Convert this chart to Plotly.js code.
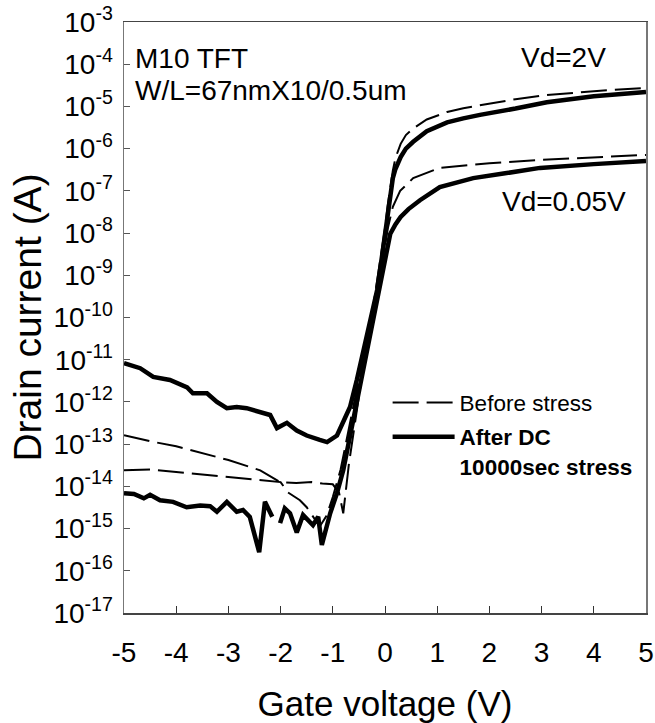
<!DOCTYPE html>
<html>
<head>
<meta charset="utf-8">
<script src="https://cdn.plot.ly/plotly-3.0.1.min.js"></script>
<style>html,body{margin:0;padding:0;background:#fff;}#chart{width:655px;height:723px;}</style>
</head>
<body>
<div id="chart"></div>
<script>
// ---------- data ----------
// Before stress, Vd = 2 V (dashed)
const vgBefore2 = [-5.0,-4.5,-4.0,-3.54,-3.0,-2.39,-2.2,-2.01,-1.7,-1.4,-1.2,-1.0,-0.88,-0.8,-0.69,-0.57,-0.45,-0.3,-0.15,-0.05,0.0,0.05,0.1,0.15,0.2,0.3,0.4,0.54,0.8,1.19,1.5,1.82,2.5,3.1,4.0,5.0];
const idBefore2 = [1.62e-13,1.17e-13,8.9e-14,6.2e-14,4.2e-14,2.4e-14,1.74e-14,1.26e-14,1.2e-14,1.26e-14,1.17e-14,1.12e-14,7.1e-15,2.3e-15,3.5e-14,3.7e-13,3.5e-12,4.5e-11,7.1e-10,5.0e-9,1.3e-8,4.4e-8,1.26e-7,3.0e-7,6.0e-7,1.3e-6,2.1e-6,3.0e-6,4.9e-6,7.4e-6,9.1e-6,1.07e-5,1.48e-5,1.86e-5,2.3e-5,2.75e-5];

// Before stress, Vd = 0.05 V (dashed)
const vgBefore005 = [-5.0,-4.5,-4.0,-3.5,-3.0,-2.5,-2.0,-1.86,-1.63,-1.5,-1.38,-1.25,-1.12,-1.0,-0.85,-0.65,-0.45,-0.3,-0.15,0.0,0.06,0.15,0.29,0.54,1.05,2.0,2.97,4.0,5.0];
const idBefore005 = [2.4e-14,2.5e-14,2.2e-14,1.9e-14,1.66e-14,1.45e-14,1.26e-14,7.2e-15,4.7e-15,3.2e-15,1.9e-15,1.12e-15,2.0e-15,5.6e-15,2.5e-14,4.5e-13,7.1e-12,5.6e-11,5.0e-10,5.0e-9,1.4e-8,4.2e-8,1.0e-7,2.0e-7,3.5e-7,4.5e-7,5.4e-7,6.3e-7,7.1e-7];

// After DC 10000 sec stress, Vd = 2 V (thick)
const vgAfter2 = [-5.0,-4.69,-4.44,-4.12,-3.79,-3.68,-3.41,-3.22,-3.03,-2.84,-2.65,-2.4,-2.2,-2.07,-1.88,-1.69,-1.5,-1.25,-1.11,-0.92,-0.8,-0.67,-0.54,-0.42,-0.29,-0.15,-0.04,0.05,0.1,0.15,0.2,0.3,0.4,0.54,0.8,1.19,1.5,1.82,2.5,3.1,4.0,5.0];
const idAfter2 = [8.3e-12,6.3e-12,3.9e-12,3.3e-12,2.2e-12,1.6e-12,1.6e-12,1.0e-12,7.1e-13,7.6e-13,7.1e-13,5.8e-13,4.9e-13,2.4e-13,3.2e-13,2.1e-13,1.6e-13,1.26e-13,1.12e-13,1.6e-13,3.2e-13,7.6e-13,3.3e-12,1.45e-11,7.4e-11,4.5e-10,4.0e-9,3.0e-8,9.0e-8,2.0e-7,3.3e-7,6.3e-7,1.0e-6,1.45e-6,2.6e-6,4.2e-6,5.2e-6,6.3e-6,8.9e-6,1.26e-5,1.74e-5,2.2e-5];

// After DC 10000 sec stress, Vd = 0.05 V (thick); null = gap in the measured trace
const vgAfter005 = [-5.0,-4.81,-4.62,-4.5,-4.31,-4.06,-3.8,-3.54,-3.35,-3.22,-3.03,-2.84,-2.72,-2.59,-2.41,-2.3,-2.16,-2.08,-2.01,-1.92,-1.82,-1.69,-1.57,-1.38,-1.28,-1.21,-1.05,-0.92,-0.8,-0.61,-0.45,-0.3,-0.15,0.0,0.1,0.2,0.3,0.45,0.67,1.05,1.69,2.3,2.97,4.0,5.0];
const idAfter005 = [6.9e-15,6.6e-15,5.2e-15,6.3e-15,4.7e-15,4.3e-15,3.2e-15,3.5e-15,3.4e-15,2.5e-15,4.3e-15,2.5e-15,2.75e-15,1.9e-15,2.75e-16,4.3e-15,1.9e-15,null,1.35e-15,3.0e-15,2.3e-15,8.1e-16,2.1e-15,1.2e-15,1.9e-15,4.1e-16,2.3e-15,6.9e-15,2.4e-14,3.7e-13,4.0e-12,3.5e-11,3.2e-10,2.8e-9,9.5e-9,1.6e-8,2.4e-8,3.7e-8,6.0e-8,1.23e-7,2.0e-7,2.6e-7,3.5e-7,4.3e-7,5.1e-7];

const xTickVals = [-5,-4,-3,-2,-1,0,1,2,3,4,5];
const xTickText = ['-5','-4','-3','-2','-1','0','1','2','3','4','5'];
const yTickVals = [1e-3,1e-4,1e-5,1e-6,1e-7,1e-8,1e-9,1e-10,1e-11,1e-12,1e-13,1e-14,1e-15,1e-16,1e-17];
const yTickText = ['10<sup>-3</sup>','10<sup>-4</sup>','10<sup>-5</sup>','10<sup>-6</sup>','10<sup>-7</sup>','10<sup>-8</sup>','10<sup>-9</sup>','10<sup>-10</sup>','10<sup>-11</sup>','10<sup>-12</sup>','10<sup>-13</sup>','10<sup>-14</sup>','10<sup>-15</sup>','10<sup>-16</sup>','10<sup>-17</sup>'];

const legendBefore = 'Before stress';
const legendAfter = '<b>After DC<br>10000sec stress</b>';
const textDevice = 'M10 TFT';
const textSize = 'W/L=67nmX10/0.5um';
const textVd2 = 'Vd=2V';
const textVd005 = 'Vd=0.05V';
const xTitle = 'Gate voltage (V)';
const yTitle = 'Drain current (A)';

// ---------- styles ----------
const FONT = '"Liberation Sans", Arial, Helvetica, sans-serif';
const dashStyle = {color: '#000', width: 2, dash: '26px,8px'};
const thickStyle = {color: '#000', width: 4.5};

const traces = [
  {x: vgBefore2, y: idBefore2, mode: 'lines', line: dashStyle, name: legendBefore, legendgroup: 'b', showlegend: true},
  {x: vgBefore005, y: idBefore005, mode: 'lines', line: dashStyle, name: legendBefore, legendgroup: 'b', showlegend: false},
  {x: vgAfter2, y: idAfter2, mode: 'lines', line: thickStyle, name: legendAfter, legendgroup: 'a', showlegend: true},
  {x: vgAfter005, y: idAfter005, mode: 'lines', line: thickStyle, name: legendAfter, legendgroup: 'a', showlegend: false, connectgaps: false}
];

const annFont = {family: FONT, size: 28, color: '#000'};
const layout = {
  width: 655, height: 723,
  margin: {l: 124, r: 9, t: 22, b: 110, pad: 0},
  paper_bgcolor: '#fff', plot_bgcolor: '#fff',
  font: {family: FONT, color: '#000'},
  showlegend: true,
  xaxis: {
    range: [-5, 5], tickvals: xTickVals, ticktext: xTickText,
    ticks: 'inside', ticklen: 7, tickwidth: 1, tickcolor: '#333',
    showline: true, linecolor: '#444', linewidth: 1.5, mirror: true,
    showgrid: false, zeroline: false,
    tickfont: {family: FONT, size: 28, color: '#000'},
    ticklabelstandoff: 14,
    title: {text: xTitle, font: {family: FONT, size: 35, color: '#000'}, standoff: 24}
  },
  yaxis: {
    type: 'log', range: [-17, -3], tickvals: yTickVals, ticktext: yTickText,
    ticks: 'inside', ticklen: 6, tickwidth: 1, tickcolor: '#555',
    showline: true, linecolor: '#777', linewidth: 1.5, mirror: true,
    showgrid: false, zeroline: false,
    tickfont: {family: FONT, size: 28, color: '#000'},
    ticklabelstandoff: 4,
    title: {text: yTitle, font: {family: FONT, size: 39, color: '#000'}, standoff: 0}
  },
  legend: {
    x: 0.505, y: 0.392, xanchor: 'left', yanchor: 'top',
    bgcolor: 'rgba(0,0,0,0)', borderwidth: 0,
    font: {family: FONT, size: 22.5, color: '#000'},
    itemwidth: 62, valign: 'top', tracegroupgap: 2
  },
  annotations: [
    {xref: 'paper', yref: 'paper', x: 0.017, y: 0.939, xanchor: 'left', yanchor: 'middle', text: textDevice, showarrow: false, font: annFont},
    {xref: 'paper', yref: 'paper', x: 0.017, y: 0.884, xanchor: 'left', yanchor: 'middle', text: textSize, showarrow: false, font: annFont},
    {xref: 'paper', yref: 'paper', x: 0.757, y: 0.94, xanchor: 'left', yanchor: 'middle', text: textVd2, showarrow: false, font: annFont},
    {xref: 'paper', yref: 'paper', x: 0.72, y: 0.697, xanchor: 'left', yanchor: 'middle', text: textVd005, showarrow: false, font: annFont}
  ]
};

Plotly.newPlot('chart', traces, layout, {displayModeBar: false, staticPlot: true});
</script>
</body>
</html>
